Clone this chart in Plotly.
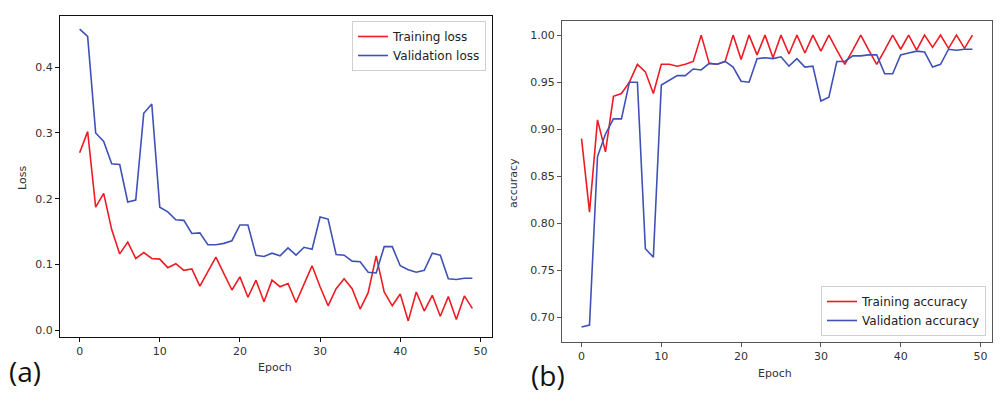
import plotly.graph_objects as go

epochs = list(range(50))

train_loss = [0.270, 0.302, 0.187, 0.208, 0.153, 0.116, 0.134, 0.109, 0.118, 0.109,
              0.108, 0.095, 0.101, 0.091, 0.093, 0.067, 0.089, 0.111, 0.086, 0.061,
              0.081, 0.050, 0.076, 0.043, 0.076, 0.066, 0.071, 0.042, 0.070, 0.098,
              0.066, 0.037, 0.063, 0.078, 0.063, 0.032, 0.057, 0.113, 0.058, 0.037,
              0.055, 0.014, 0.058, 0.029, 0.053, 0.021, 0.051, 0.016, 0.052, 0.033]

val_loss = [0.458, 0.447, 0.300, 0.287, 0.253, 0.252, 0.195, 0.198, 0.330, 0.344,
            0.187, 0.180, 0.168, 0.167, 0.147, 0.148, 0.130, 0.130, 0.132, 0.136,
            0.160, 0.160, 0.114, 0.112, 0.117, 0.113, 0.125, 0.114, 0.126, 0.123,
            0.172, 0.169, 0.115, 0.114, 0.105, 0.104, 0.088, 0.087, 0.127, 0.127,
            0.098, 0.092, 0.088, 0.091, 0.117, 0.114, 0.078, 0.077, 0.079, 0.079]

train_acc = [0.890, 0.812, 0.910, 0.876, 0.935, 0.938, 0.950, 0.969, 0.961, 0.938,
             0.969, 0.969, 0.967, 0.969, 0.972, 1.000, 0.970, 0.969, 0.972, 1.000,
             0.974, 1.000, 0.979, 1.000, 0.976, 1.000, 0.980, 1.000, 0.981, 1.000,
             0.983, 1.000, 0.984, 0.969, 0.984, 1.000, 0.984, 0.969, 0.984, 1.000,
             0.985, 1.000, 0.984, 1.000, 0.987, 1.000, 0.986, 1.000, 0.986, 1.000]

val_acc = [0.690, 0.692, 0.871, 0.895, 0.911, 0.911, 0.950, 0.950, 0.773, 0.764,
           0.947, 0.952, 0.957, 0.957, 0.964, 0.963, 0.970, 0.969, 0.972, 0.966,
           0.951, 0.950, 0.975, 0.976, 0.975, 0.977, 0.967, 0.975, 0.966, 0.967,
           0.930, 0.934, 0.972, 0.972, 0.978, 0.978, 0.979, 0.979, 0.959, 0.959,
           0.979, 0.981, 0.983, 0.982, 0.966, 0.969, 0.985, 0.984, 0.985, 0.985]

x_ticks = [0, 10, 20, 30, 40, 50]
loss_ticks = [0.0, 0.1, 0.2, 0.3, 0.4]
acc_ticks = [0.70, 0.75, 0.80, 0.85, 0.90, 0.95, 1.00]

RED = "#ED1C24"
BLUE = "#3F51B5"
FONT = "DejaVu Sans"
W, H = 1000, 396

fig = go.Figure()
fig.add_trace(go.Scatter(x=epochs, y=train_loss, mode="lines", name="Training loss",
                         line=dict(color=RED, width=1.6), xaxis="x", yaxis="y", legend="legend"))
fig.add_trace(go.Scatter(x=epochs, y=val_loss, mode="lines", name="Validation loss",
                         line=dict(color=BLUE, width=1.6), xaxis="x", yaxis="y", legend="legend"))
fig.add_trace(go.Scatter(x=epochs, y=train_acc, mode="lines", name="Training accuracy",
                         line=dict(color=RED, width=1.6), xaxis="x2", yaxis="y2", legend="legend2"))
fig.add_trace(go.Scatter(x=epochs, y=val_acc, mode="lines", name="Validation accuracy",
                         line=dict(color=BLUE, width=1.6), xaxis="x2", yaxis="y2", legend="legend2"))

axis_common = dict(showgrid=False, zeroline=False, showline=True, mirror=True,
                   ticks="outside", ticklen=4, tickwidth=1, automargin=False,
                   tickfont=dict(family=FONT, size=11, color="#333333"))


def ann(text, px, py, size=11, angle=0, family=FONT, color="#333333"):
    return dict(text=text, x=px / W, y=1 - py / H, xref="paper", yref="paper",
                xanchor="center", yanchor="middle", showarrow=False, textangle=angle,
                font=dict(family=family, size=size, color=color))


fig.update_layout(
    width=W, height=H,
    margin=dict(l=0, r=0, t=0, b=0, autoexpand=False),
    paper_bgcolor="white", plot_bgcolor="white",
    showlegend=True,
    xaxis=dict(domain=[60 / W, 492 / W], range=[-2.45, 51.45], tickvals=x_ticks,
               linecolor="#111111", tickcolor="#111111", anchor="y", **axis_common),
    yaxis=dict(domain=[1 - 337 / H, 1 - 16 / H], range=[-0.0105, 0.478],
               tickvals=loss_ticks, tickformat=".1f",
               linecolor="#111111", tickcolor="#111111", anchor="x", **axis_common),
    xaxis2=dict(domain=[562 / W, 992 / W], range=[-2.45, 51.45], tickvals=x_ticks,
                linecolor="#555555", tickcolor="#555555", anchor="y2", **axis_common),
    yaxis2=dict(domain=[1 - 341.5 / H, 1 - 21 / H], range=[0.6745, 1.0150],
                tickvals=acc_ticks, tickformat=".2f",
                linecolor="#555555", tickcolor="#555555", anchor="x2", **axis_common),
    legend=dict(x=486 / W, y=1 - 21 / H, xanchor="right", yanchor="top",
                bgcolor="white", bordercolor="#d0d0d0", borderwidth=1,
                font=dict(family=FONT, size=12, color="#222222"),
                tracegroupgap=0, itemwidth=30),
    legend2=dict(x=986 / W, y=1 - 336 / H, xanchor="right", yanchor="bottom",
                 bgcolor="white", bordercolor="#d0d0d0", borderwidth=1,
                 font=dict(family=FONT, size=12, color="#222222"),
                 tracegroupgap=0, itemwidth=30),
    annotations=[
        ann("Epoch", 275, 367),
        ann("Epoch", 775, 373),
        ann("Loss", 22, 178, angle=-90),
        ann("accuracy", 513, 183, angle=-90),
        ann("(a)", 25, 371, size=28, family="Open Sans", color="#111111"),
        ann("(b)", 548, 375, size=28, family="Open Sans", color="#111111"),
    ],
)

fig.write_html(
    "out.html",
    config={"displayModeBar": False},
    post_script="document.body.style.margin='0';document.body.style.overflow='hidden';",
)
